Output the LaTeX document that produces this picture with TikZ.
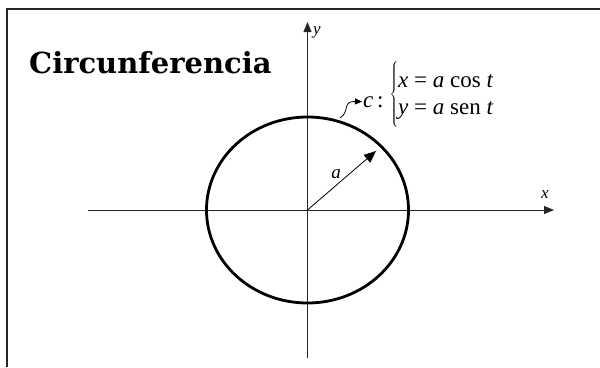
\documentclass[tikz,border=0pt]{standalone}
\usepackage{fontspec}
\setmainfont{Liberation Serif}
\newfontfamily\titlefont{DejaVu Serif}
\usetikzlibrary{arrows.meta}
\begin{document}
\begin{tikzpicture}[x=1pt,y=-1pt,
  axis/.style={line width=1pt,draw=black!85,-{Triangle[length=10pt,width=8pt]}},
  lbl/.style={inner sep=0pt,font=\fontsize{17}{20}\selectfont\itshape},
  eqt/.style={inner sep=0pt,anchor=base west,font=\fontsize{23}{27}\selectfont},
  frame/.style={line width=2pt,draw=black!85}]
\useasboundingbox (0,0) rectangle (600,367);
\fill[white] (0,0) rectangle (600,367);
% frame
\draw[frame] (600,9) -- (7,9) -- (7,367);
% title
\node[anchor=base west,inner sep=0pt,font=\titlefont\bfseries\fontsize{29}{34}\selectfont] (title) at (29,73) {Circunferencia};
% axes
\coordinate (O) at (307.5,210);
\coordinate (xs) at (88,210);
\coordinate (xe) at (554,210);
\coordinate (ys) at (307.5,358);
\coordinate (ye) at (307.5,22);
\draw[axis] (xs) -- (xe);
\draw[axis] (ys) -- (ye);
\node[lbl,anchor=base] (xl) at (545,198) {x};
\node[lbl,anchor=base west] (yl) at (313,34) {y};
% circle
\draw[line width=2.8pt] (O) ellipse [x radius=101, y radius=93];
% radius
\coordinate (P) at (376,151);
\draw[line width=0.8pt,-{Triangle[length=12pt,width=10pt]}] (O) -- (P);
\node[lbl,font=\fontsize{19}{22}\selectfont\itshape,anchor=base] (al) at (336,178) {a};
% equations
\node[eqt] (c) at (363,107) {\textit{c}};
\node[eqt] (colon) at (377,107) {:};
\node[inner sep=0pt] (br) at (394,95) {\fontsize{23}{27}\selectfont$\left\{\vrule height 27pt depth 27pt width 0pt\right.\kern-\nulldelimiterspace$};
\node[eqt] (l1) at (398,87) {\textit{x} = \textit{a} cos \textit{t}};
\node[eqt] (l2) at (398,114) {\textit{y} = \textit{a} sen \textit{t}};
% leader
\coordinate (L) at (340,118);
\draw[line width=0.8pt,-{Triangle[length=7pt,width=6pt]}] (L) .. controls (350,112) and (342,101) .. ([xshift=-1pt]c.west);
\end{tikzpicture}
\end{document}
